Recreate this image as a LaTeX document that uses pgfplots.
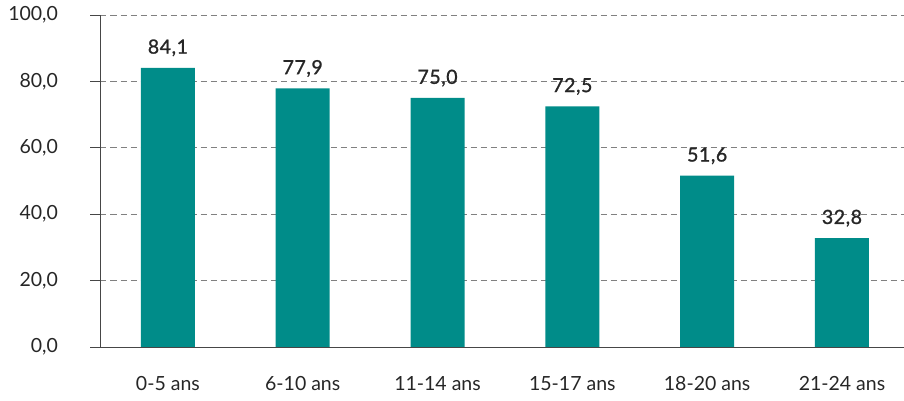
\documentclass[border=0pt]{standalone}
\usepackage{pgfplots}
\pgfplotsset{compat=1.18}
\usepackage{fontspec}
\setmainfont{Lato}
\newfontfamily\labelfont{Lato}[FakeBold=1.2, LetterSpace=3]
\definecolor{barteal}{RGB}{0,140,137}
\definecolor{gridgray}{RGB}{128,128,128}
\definecolor{axisgray}{RGB}{70,70,70}
\begin{document}
\begin{tikzpicture}[x=1pt,y=1pt]
\begin{axis}[
  scale only axis,
  width=803.5pt, height=332pt,
  xmin=-0.5, xmax=5.46,
  ymin=0, ymax=100,
  axis x line=bottom, axis y line=left,
  axis line style={-, axisgray, line width=0.8pt},
  ytick={0,20,40,60,80,100},
  ymajorgrids,
  major grid style={gridgray, dash pattern=on 6pt off 4pt, line width=0.8pt},
  tick align=outside,
  major tick length=10pt,
  ytick style={axisgray, line width=0.8pt},
  xtick={0,1,2,3,4,5},
  xticklabels={0-5 ans,6-10 ans,11-14 ans,15-17 ans,18-20 ans,21-24 ans},
  xtick style={draw=none},
  extra x ticks={-0.5,0.5,1.5,2.5,3.5,4.5,5.5},
  extra x tick labels={},
  extra x tick style={tick style={draw=axisgray, line width=0.8pt}, major tick length=10pt, xmajorgrids=false},
  xticklabel style={font=\fontsize{19.5}{22}\selectfont, text=black!85, yshift=-16pt},
  yticklabel style={font=\fontsize{19.5}{22}\selectfont, text=black!85, xshift=-29pt},
  /pgf/number format/assume math mode=true,
  yticklabel={\pgfmathprintnumber[fixed,fixed zerofill,precision=1,use comma]{\tick}},
  ybar, bar width=54pt,
  nodes near coords={\pgfmathprintnumber[fixed,fixed zerofill,precision=1,use comma,assume math mode=true]{\pgfplotspointmeta}},
  every node near coord/.append style={font=\labelfont\fontsize{19.5}{22}\selectfont, text=black!85, yshift=8pt},
  clip=false,
]
\addplot[fill=barteal, draw=none] coordinates {(0,84.1) (1,77.9) (2,75.0) (3,72.5) (4,51.6) (5,32.8)};
\end{axis}
\pgfresetboundingbox
\useasboundingbox (-100.5pt,-54pt) rectangle (803.5pt,347pt);
\end{tikzpicture}
\end{document}
